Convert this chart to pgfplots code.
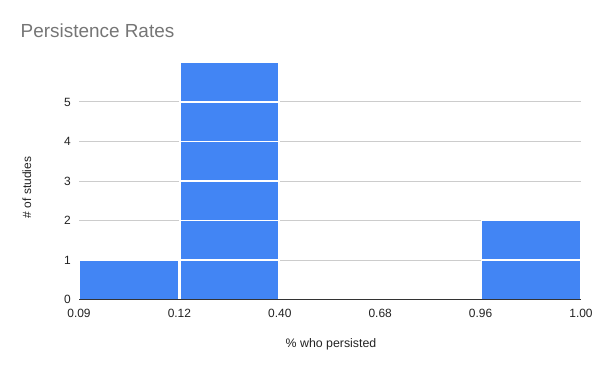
\documentclass[border=0pt]{standalone}
\usepackage{pgfplots}
\pgfplotsset{compat=1.18}
\usepackage{fontspec}
\setmainfont{Liberation Sans}
\definecolor{barblue}{HTML}{4285F4}
\definecolor{gridgray}{HTML}{CCCCCC}
\definecolor{titlegray}{HTML}{757575}
\definecolor{txt}{HTML}{222222}
\definecolor{axisdark}{HTML}{333333}
\begin{document}
\begin{tikzpicture}
\useasboundingbox (0,0) rectangle (600bp,371bp);
\node[anchor=base west, font=\fontsize{19}{22}\selectfont, text=titlegray, inner sep=0pt] at (20.5bp,333.5bp) {Persistence Rates};
\node[rotate=90, anchor=base, font=\fontsize{12}{14}\selectfont, text=txt, inner sep=0pt] at (31bp,183.5bp) {\# of studies};
\node[anchor=base, font=\fontsize{12.4}{14}\selectfont, text=txt, inner sep=0pt] at (331bp,23.5bp) {\% who persisted};
\begin{axis}[
  at={(79bp,71.3bp)}, anchor=origin,
  scale only axis, width=502bp, height=237.4bp,
  xmin=0, xmax=5, ymin=0, ymax=6,
  enlargelimits=false,
  xtick={0,1,2,3,4,5},
  xticklabels={0.09,0.12,0.40,0.68,0.96,1.00},
  ytick={0,1,2,3,4,5},
  major tick length=0pt,
  axis line style={draw=none},
  ymajorgrids, grid style={gridgray, line width=1bp},
  tick label style={font=\fontsize{12}{14}\selectfont, text=txt},
  /pgf/number format/assume math mode=true,
  xticklabel style={anchor=base, yshift=-17.5bp, inner sep=0pt},
  yticklabel style={anchor=base east, xshift=-8bp, yshift=-4.3bp, inner sep=0pt},
  ybar, bar shift=0pt, bar width=0.985,
]
% cumulative item levels of the histogram counts (bins: 0.09-0.12:1, 0.12-0.40:6, 0.96-1.00:2)
\addplot[fill=barblue, draw=white, line width=1.4bp] coordinates {(1.5,6)};
\addplot[fill=barblue, draw=white, line width=1.4bp] coordinates {(1.5,5)};
\addplot[fill=barblue, draw=white, line width=1.4bp] coordinates {(1.5,4)};
\addplot[fill=barblue, draw=white, line width=1.4bp] coordinates {(1.5,3)};
\addplot[fill=barblue, draw=white, line width=1.4bp] coordinates {(1.5,2) (4.5,2)};
\addplot[fill=barblue, draw=white, line width=1.4bp] coordinates {(0.5,1) (1.5,1) (4.5,1)};
\draw[axisdark, line width=1bp] (axis cs:0,0) -- (axis cs:5,0);
\end{axis}
\end{tikzpicture}
\end{document}
